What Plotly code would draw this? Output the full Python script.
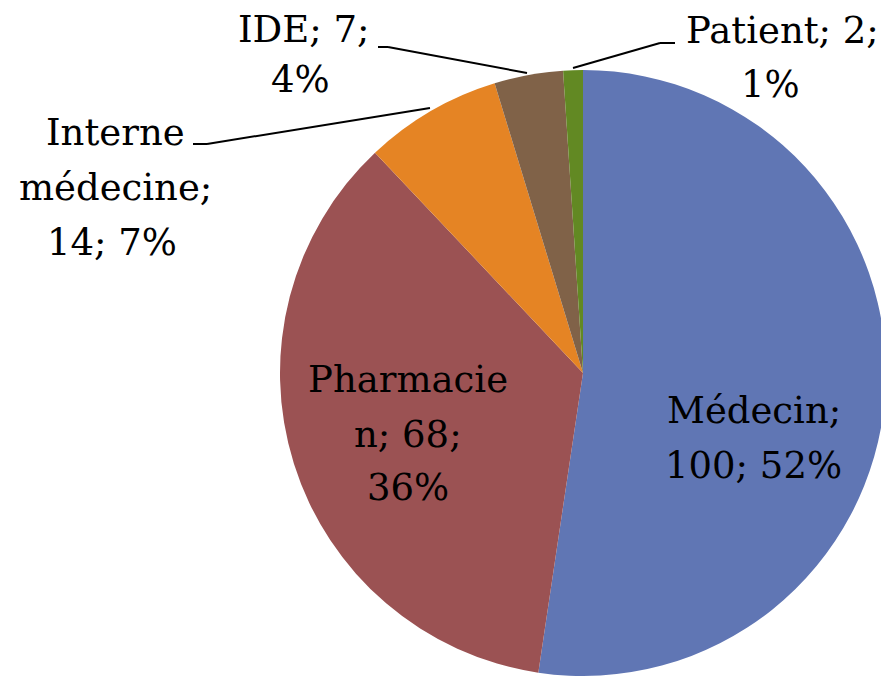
import plotly.graph_objects as go

labels = ["Médecin", "Pharmacien", "Interne médecine", "IDE", "Patient"]
values = [100, 68, 14, 7, 2]
colors = ["#6076B4", "#9B5253", "#E58424", "#806248", "#628923"]
# data-label lines as drawn (text wrapped like the original)
label_lines = [
    ["Médecin;", "100; 52%"],
    ["Pharmacie", "n; 68;", "36%"],
    ["Interne", "médecine;", "14; 7%"],
    ["IDE; 7;", "4%"],
    ["Patient; 2;", "1%"],
]

# page has an 8px body margin: figure is drawn at offset (8, 8)
OFF = 8
W, H = 889 - OFF, 676 - OFF
FS = 37
FONT = "DejaVu Serif, serif"
# line centre x and baseline y (page pixels) for each label line
line_pos = [
    [(754, 423), (753, 478)],
    [(408, 392), (408, 447), (408, 500)],
    [(115, 145), (115, 200), (112, 255)],
    [(304, 42), (300, 92)],
    [(782, 43), (770, 97)],
]
leaders = {
    2: [(193, 144), (207, 144), (430, 108)],
    3: [(378, 47), (388, 47), (527, 73)],
    4: [(675, 43), (660, 43), (573, 68)],
}

def px(x, y):
    return (x - OFF) / W, 1 - (y - OFF) / H

cx, cy, r = 583 - OFF, 373 - OFF, 303
fig = go.Figure(go.Pie(
    labels=labels, values=values, sort=False, direction="clockwise", rotation=0,
    marker=dict(colors=colors, line=dict(width=0)),
    textinfo="none", hoverinfo="skip", showlegend=False,
    domain=dict(x=[(cx - r) / W, (cx + r) / W], y=[0, 2 * (H - cy) / H]),
))

anns = []
for lines, poss in zip(label_lines, line_pos):
    for t, (x, y) in zip(lines, poss):
        xx, yy = px(x, y - 0.33 * FS)
        anns.append(dict(text=t, x=xx, y=yy, xref="paper", yref="paper",
                         xanchor="center", yanchor="middle", showarrow=False,
                         align="center",
                         font=dict(family=FONT, size=FS, color="#000000")))

shapes = []
for k, pts in leaders.items():
    for (x0, y0), (x1, y1) in zip(pts[:-1], pts[1:]):
        a0, b0 = px(x0, y0)
        a1, b1 = px(x1, y1)
        shapes.append(dict(type="line", xref="paper", yref="paper",
                           x0=a0, y0=b0, x1=a1, y1=b1,
                           line=dict(color="#000000", width=2)))

fig.update_layout(width=W, height=H, margin=dict(l=0, r=0, t=0, b=0),
                  paper_bgcolor="#FFFFFF", plot_bgcolor="#FFFFFF",
                  font=dict(family=FONT),
                  annotations=anns, shapes=shapes)
fig.write_html("out.html")
